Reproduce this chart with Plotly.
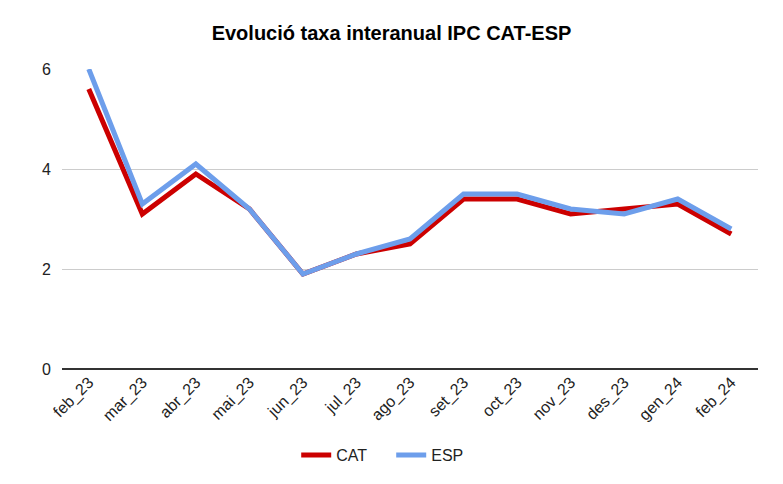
import plotly.graph_objects as go

months = ["feb_23", "mar_23", "abr_23", "mai_23", "jun_23", "jul_23", "ago_23",
          "set_23", "oct_23", "nov_23", "des_23", "gen_24", "feb_24"]
cat = [5.6, 3.1, 3.9, 3.2, 1.9, 2.3, 2.5, 3.4, 3.4, 3.1, 3.2, 3.3, 2.7]
esp = [6.0, 3.3, 4.1, 3.2, 1.9, 2.3, 2.6, 3.5, 3.5, 3.2, 3.1, 3.4, 2.8]
y_ticks = [0, 2, 4, 6]

fig = go.Figure()
fig.add_trace(go.Scatter(x=months, y=cat, name="CAT", mode="lines",
                         line=dict(color="#cc0000", width=5)))
fig.add_trace(go.Scatter(x=months, y=esp, name="ESP", mode="lines",
                         line=dict(color="#6d9eeb", width=5)))

font_family = "Liberation Sans, Arial, sans-serif"
fig.update_layout(
    width=783, height=484,
    margin=dict(l=62, r=25, t=69, b=115, autoexpand=False),
    paper_bgcolor="white", plot_bgcolor="white",
    title=dict(text="<b>Evolució taxa interanual IPC CAT-ESP</b>",
               x=0.5, xanchor="center", y=1 - 33 / 484, yanchor="middle",
               font=dict(family=font_family, size=20, color="#000000")),
    font=dict(family=font_family, size=16, color="#222222"),
    showlegend=True,
    legend=dict(orientation="h", x=0.473, xanchor="center",
                y=-0.23, yanchor="top", entrywidth=50,
                font=dict(size=16, color="#222222"), itemwidth=30),
    xaxis=dict(type="category", range=[-0.5, 12.5], tickangle=-45,
               showgrid=False, showline=False, ticks="", automargin=False,
               tickfont=dict(size=16, color="#222222")),
    yaxis=dict(range=[0, 6], tickvals=y_ticks, showgrid=True, gridcolor="#cccccc",
               gridwidth=1, zeroline=True, zerolinecolor="#333333", zerolinewidth=1.5,
               showline=False, ticks="", ticklabelstandoff=10, automargin=False,
               tickfont=dict(size=16, color="#222222")),
)

fig.write_html("out.html")
